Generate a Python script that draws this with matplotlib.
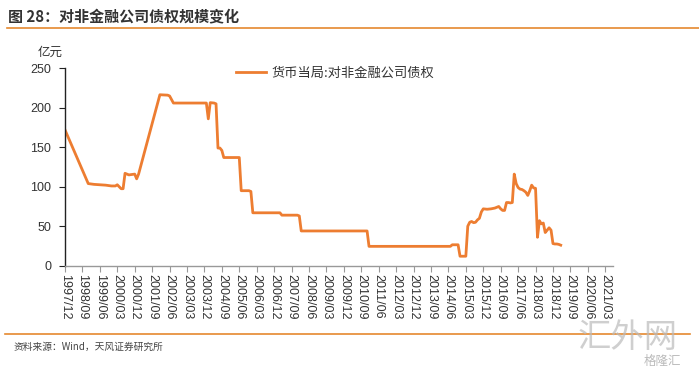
import matplotlib
matplotlib.use("Agg")
import matplotlib.pyplot as plt

plt.rcParams['font.family'] = ['Liberation Sans', 'Noto Sans CJK SC', 'DejaVu Sans']

# 数据（亿元），按月份
dates = ["1997/12", "1998/12", "1999/03", "1999/06", "1999/09", "1999/12", "2000/02",
         "2000/03", "2000/04", "2000/05", "2000/06", "2000/07", "2000/09", "2000/12",
         "2001/01", "2001/02", "2002/01", "2002/05", "2002/06", "2002/08", "2003/12",
         "2004/01", "2004/02", "2004/03", "2004/05", "2004/06", "2004/07", "2004/08",
         "2004/09", "2004/10", "2005/06", "2005/07", "2005/11", "2005/12", "2006/01",
         "2007/03", "2007/04", "2007/12", "2008/01", "2008/02", "2010/12", "2011/01",
         "2014/07", "2014/08", "2014/11", "2014/12", "2015/03", "2015/04", "2015/05",
         "2015/06", "2015/07", "2015/08", "2015/09", "2015/10", "2015/11", "2015/12",
         "2016/02", "2016/04", "2016/05", "2016/06", "2016/07", "2016/08", "2016/09",
         "2016/10", "2016/11", "2016/12", "2017/01", "2017/02", "2017/03", "2017/04",
         "2017/05", "2017/06", "2017/07", "2017/08", "2017/09", "2017/10", "2017/11",
         "2017/12", "2018/01", "2018/02", "2018/03", "2018/04", "2018/05", "2018/06",
         "2018/07", "2018/08", "2018/09", "2018/10", "2018/11", "2018/12", "2019/01",
         "2019/02", "2019/03", "2019/04"]
values = [172, 104, 103, 102.5, 102, 101, 101,
          102.5, 100, 97.5, 97.5, 117, 115, 116,
          110, 116, 216.5, 216, 215, 206, 206,
          206, 186, 206.5, 206, 205, 149, 149,
          146, 137, 137, 95, 95, 94, 67,
          67, 64, 64, 63, 44, 44, 24.5,
          24.5, 26.5, 26.5, 12, 12, 50, 55,
          56, 54.5, 55, 58, 60, 68, 72,
          71.5, 72, 72.5, 73, 74, 75, 72,
          70, 70, 80, 80, 79.5, 80, 116,
          104, 99, 97, 96.5, 95, 93, 89,
          95, 102, 98.5, 98, 36, 57, 53,
          54, 42, 45, 48, 45, 28, 27.5,
          27.5, 27, 26]

tick_labels = ["1997/12", "1998/09", "1999/06", "2000/03", "2000/12", "2001/09", "2002/06",
               "2003/03", "2003/12", "2004/09", "2005/06", "2006/03", "2006/12", "2007/09",
               "2008/06", "2009/03", "2009/12", "2010/09", "2011/06", "2012/03", "2012/12",
               "2013/09", "2014/06", "2015/03", "2015/12", "2016/09", "2017/06", "2018/03",
               "2018/12", "2019/09", "2020/06", "2021/03"]
yticks = [0, 50, 100, 150, 200, 250]


def month_index(s):
    y, m = s.split("/")
    return (int(y) - 1997) * 12 + int(m) - 12


orange = "#ED7D31"
line_orange = "#E5892F"

fig = plt.figure(figsize=(6.99, 3.69), dpi=100)
ax = fig.add_axes([65 / 699, 1 - 265.7 / 369, 548 / 699, 197.4 / 369])

x = [month_index(d) for d in dates]
ax.plot(x, values, color=orange, lw=2.0, solid_joinstyle="round", label="货币当局:对非金融公司债权")

ax.set_xlim(0, 283)
ax.set_ylim(0, 250)
ax.set_xticks([month_index(t) for t in tick_labels])
ax.set_xticklabels(tick_labels, rotation=-90, fontsize=9, color="#333333")
ax.set_yticks(yticks)
ax.set_yticklabels([str(v) for v in yticks], fontsize=9, color="#333333")

for side in ["top", "right"]:
    ax.spines[side].set_visible(False)
ax.spines["left"].set_color("#222222")
ax.spines["left"].set_linewidth(1.0)
ax.spines["bottom"].set_color("#999999")
ax.spines["bottom"].set_linewidth(1.0)
ax.tick_params(axis="x", direction="out", length=4, width=0.8, color="#999999", pad=2)
ax.tick_params(axis="y", direction="out", length=4, width=0.8, color="#222222", pad=6)

leg = ax.legend(loc="upper left", bbox_to_anchor=(0.29, 1.07), frameon=False,
                handlelength=2.3, handletextpad=0.4,
                prop={"family": "Noto Sans CJK SC", "size": 9.5})
for t in leg.get_texts():
    t.set_color("#333333")

fig.text(38 / 699, 1 - 52 / 369, "亿元", fontsize=9, color="#333333",
         family="Noto Sans CJK SC", va="center")

# 标题与分隔线
fig.text(8 / 699, 1 - 16 / 369, "图 28：对非金融公司债权规模变化", fontsize=10.8,
         fontweight="bold", color="#333333", family=["Noto Sans CJK SC", "DejaVu Sans"],
         va="center")
fig.add_artist(plt.Line2D([7 / 699, 1.0], [1 - 27.5 / 369] * 2, color=line_orange, lw=1.2))

fig.add_artist(plt.Line2D([5 / 699, 690 / 699], [1 - 334 / 369] * 2, color=line_orange, lw=1.2))
fig.text(14 / 699, 1 - 347 / 369, "资料来源：Wind，天风证券研究所", fontsize=7,
         color="#444444", family=["Noto Sans CJK SC", "DejaVu Sans"], va="center")

# 水印
fig.text(628 / 699, 1 - 337 / 369, "汇外网", fontsize=24, color="#bbbbbb", alpha=0.7,
         family="Noto Sans CJK SC", fontweight="light", ha="center", va="center")
fig.text(662 / 699, 1 - 361 / 369, "格隆汇", fontsize=9, color="#aaaaaa", alpha=0.8,
         family="Noto Sans CJK SC", ha="center", va="center")

fig.savefig("out.png", dpi=100)
